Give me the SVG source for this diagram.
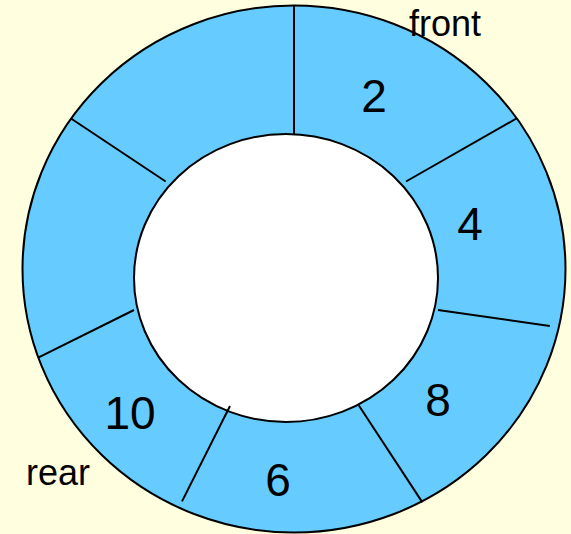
<svg xmlns="http://www.w3.org/2000/svg" width="571" height="534" viewBox="0 0 571 534">
<style>
.ring{fill:#66CCFF;stroke:#000;stroke-width:2}
.hole{fill:#FFFFFF;stroke:#000;stroke-width:2}
.div{stroke:#000;stroke-width:2;fill:none}
.num{font-family:"Liberation Sans",Arial,sans-serif;font-size:46px;fill:#000;text-anchor:middle}
.lbl{font-family:"Liberation Sans",Arial,sans-serif;font-size:36px;fill:#000}
</style>
<rect x="0" y="0" width="571" height="534" fill="#FFFFE0"/>
<g id="ring">
<ellipse class="ring" cx="294" cy="269" rx="271.5" ry="263.5"/>
<ellipse class="hole" cx="286" cy="278" rx="152" ry="144"/>
<line class="div" x1="294" y1="6" x2="294" y2="134"/>
<line class="div" x1="406" y1="181.5" x2="516.4" y2="118.5"/>
<line class="div" x1="438" y1="310" x2="549.8" y2="326"/>
<line class="div" x1="358.7" y1="405.3" x2="422.4" y2="502.4"/>
<line class="div" x1="230" y1="406" x2="182" y2="501.4"/>
<line class="div" x1="134" y1="310" x2="38.2" y2="357.6"/>
<line class="div" x1="165.7" y1="181.5" x2="71" y2="118.5"/>
</g>
<g id="cell-2"><text class="num" x="374" y="112">2</text></g>
<g id="cell-4"><text class="num" x="470" y="240">4</text></g>
<g id="cell-8"><text class="num" x="438" y="416">8</text></g>
<g id="cell-6"><text class="num" x="278" y="495.5">6</text></g>
<g id="cell-10"><text class="num" x="130" y="429">10</text></g>
<g id="label-front"><text class="lbl" x="409" y="35.8">front</text></g>
<g id="label-rear"><text class="lbl" x="26" y="485.3">rear</text></g>
<g id="connectors"></g>
</svg>
